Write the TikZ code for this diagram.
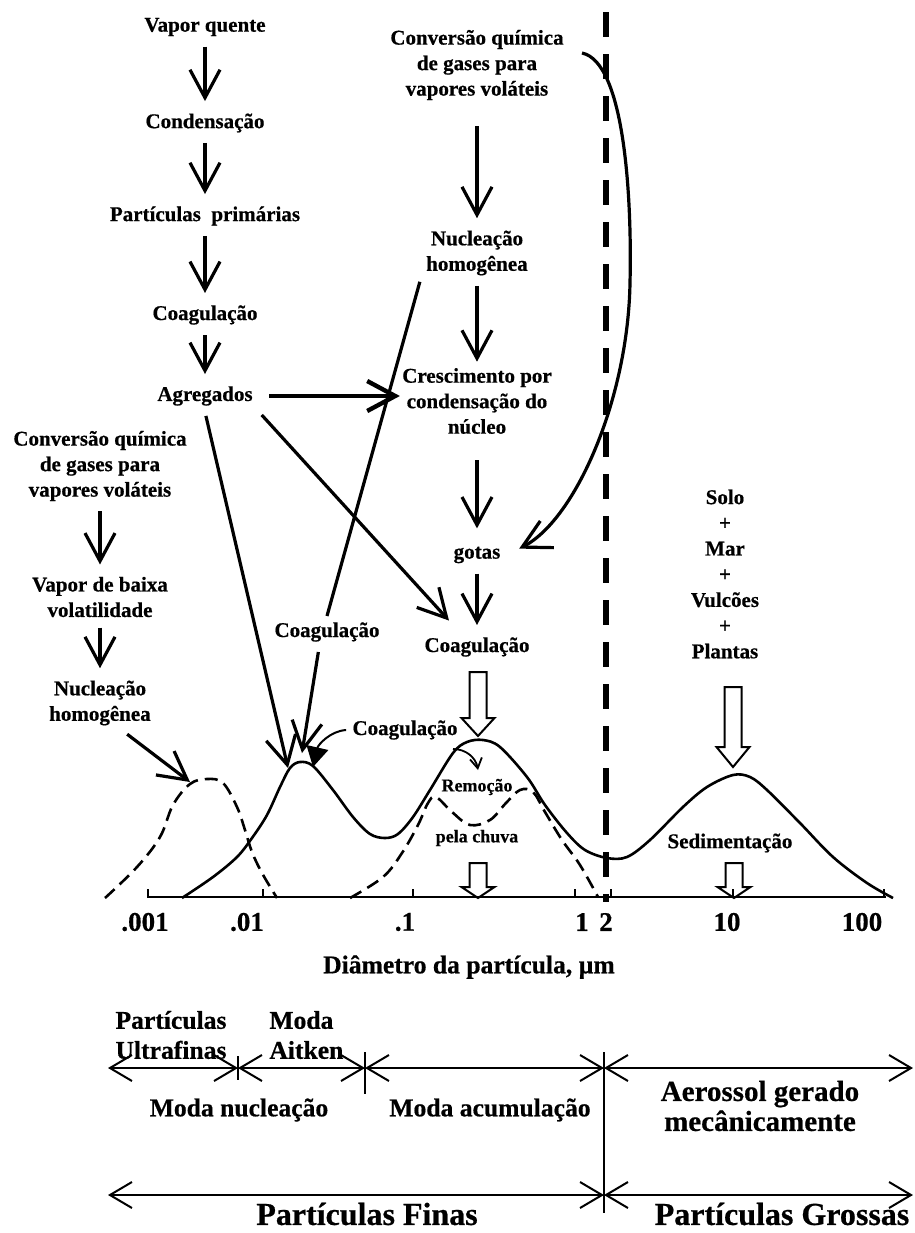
\documentclass[tikz,border=0pt]{standalone}
\usepackage{fontspec}
\setmainfont{Liberation Serif}[BoldFeatures={FakeBold=0.6}]
\usetikzlibrary{arrows.meta}
\tikzstyle{txt}=[font=\fontsize{10.5}{12.75}\selectfont\bfseries,align=center,inner sep=3pt]
\tikzstyle{fontestxt}=[font=\fontsize{10.5}{12.85}\selectfont\bfseries,align=center,inner sep=3pt]
\tikzstyle{smalltxt}=[font=\fontsize{9}{10}\selectfont\bfseries,inner sep=2pt]
\tikzstyle{numtxt}=[font=\fontsize{13.5}{15}\selectfont\bfseries,inner sep=2pt]
\tikzstyle{bigtxt}=[font=\fontsize{12.8}{15}\selectfont\bfseries,align=center,inner sep=3pt]
\tikzstyle{aertxt}=[font=\fontsize{14.5}{15}\selectfont\bfseries,align=center,inner sep=3pt]
\tikzstyle{hugetxt}=[font=\fontsize{16}{18}\selectfont\bfseries,inner sep=3pt]
\tikzstyle{seta}=[line width=1.6pt,-{Straight Barb[length=14pt,width=15pt]},shorten <=2pt,shorten >=3pt]
\tikzstyle{setinha}=[line width=0.9pt,-{Straight Barb[length=5pt,width=6pt]}]
\tikzstyle{traco}=[line width=1.6pt]
\tikzstyle{curva}=[line width=1.3pt]
\tikzstyle{curvatr}=[line width=1.3pt,dash pattern=on 6.5pt off 3.5pt]
\tikzstyle{divisa}=[line width=3pt,dash pattern=on 12.5pt off 8.5pt]
\tikzstyle{eixo}=[line width=0.8pt]
\tikzstyle{oca}=[line width=1pt,fill=white]
\tikzstyle{escala}=[line width=1pt,{Straight Barb[length=11pt,width=13pt]}-{Straight Barb[length=11pt,width=13pt]}]
% seta vazada: x, topo, ponta, cabeca
\newcommand{\setaoca}[4]{%
  \draw[oca] (#1-8.5,#2) -- (#1+8.5,#2) -- (#1+8.5,#3-#4) -- (#1+16.5,#3-#4)
    -- (#1,#3) -- (#1-16.5,#3-#4) -- (#1-8.5,#3-#4) -- cycle;}

\begin{document}
\begin{tikzpicture}[x=0.5pt,y=-0.5pt]
    \useasboundingbox (0,0) rectangle (915,1233);
    % coluna da esquerda
    \node[txt] (vq) at (205,27) {Vapor quente};
    \node[txt] (cond) at (205,123) {Condensação};
    \node[txt] (pprim) at (205,216) {Partículas \ primárias};
    \node[txt] (coagA) at (205,315) {Coagulação};
    \node[txt] (agr) at (205,396) {Agregados};
    \draw[seta] (vq) -- (cond);
    \draw[seta] (cond) -- (pprim);
    \draw[seta] (pprim) -- (coagA);
    \draw[seta] (coagA) -- (agr);
    % coluna do meio
    \node[txt] (convA) at (477,65) {Conversão química\\de gases para\\vapores voláteis};
    \node[txt] (nucA) at (477,253) {Nucleação\\homogênea};
    \node[txt] (cresc) at (477,401) {Crescimento por\\condensação do\\núcleo};
    \node[txt] (gotas) at (477,555) {gotas};
    \node[txt] (coagB) at (477,647) {Coagulação};
    \draw[seta,shorten <=10pt] (convA) -- (nucA);
    \draw[seta,shorten >=0pt] (nucA) -- (cresc);
    \draw[seta,shorten <=10pt,shorten >=6pt] (cresc) -- (gotas);
    \draw[seta] (gotas) -- (coagB);
    % coluna da esquerda, em baixo
    \node[txt] (convB) at (100,466) {Conversão química\\de gases para\\vapores voláteis};
    \node[txt] (vbv) at (100,597) {Vapor de baixa\\volatilidade};
    \node[txt] (nucB) at (100,703) {Nucleação\\homogênea};
    \draw[seta] (convB) -- (vbv);
    \draw[seta] (vbv) -- (nucB);
    % fontes naturais
    \node[fontestxt] (fontes) at (725,574) {Solo\\+\\Mar\\+\\Vulcões\\+\\Plantas};
    % picos das modas
    \coordinate (pN) at (207,779);
    \coordinate (pA) at (300,762);
    \coordinate (pC) at (480,740);
    \coordinate (pG) at (740,773);
    % rotulos do grafico
    \node[txt] (coagC) at (327,632) {Coagulação};
    \node[txt] (coagD) at (405,730) {Coagulação};
    \node[smalltxt] (remo) at (477,787) {Remoção};
    \node[smalltxt] (chuva) at (477,838) {pela chuva};
    \node[txt] (sedim) at (730,843) {Sedimentação};
    % ligacoes
    \draw[seta,line width=2.2pt,shorten <=5pt,shorten >=-2pt] (agr.east) -- (agr.east -| cresc.west);
    \draw[seta,shorten >=0pt] (agr.south) -- ([xshift=-6pt,yshift=-3pt]pA);
    \draw[seta] (agr.south east) -- ([xshift=-12pt,yshift=3pt]coagB.north);
    \draw[traco] (nucA.south west) -- (coagC.north);
    \draw[seta,shorten >=0pt] ([xshift=-4pt]coagC.south) -- ([xshift=1pt,yshift=4.5pt]pA);
    \draw[line width=1pt,-{Triangle[length=10pt,width=11pt]}] (coagD.west)
        .. controls (330,731) and (318,745) .. ([xshift=6.5pt,yshift=-2.5pt]pA);
    \draw[seta,shorten >=0pt] ([xshift=12pt]nucB.south) -- ([xshift=-8.5pt,yshift=-1.5pt]pN);
    \draw[seta,shorten <=0pt,shorten >=7pt] ([xshift=6pt,yshift=6pt]convA.east)
        .. controls (625,62) and (632,200) .. (630,283)
        .. controls (628,400) and (575,520) .. (gotas.east);
    \coordinate (r1) at (453,749);
    \coordinate (r2) at (478,770);
    \draw[setinha] (r1) to[out=0,in=100] (r2);
    % setas vazadas
    \setaoca{478}{672}{736}{18}
    \setaoca{733}{687}{767}{20}
    \setaoca{478}{863}{898}{11}
    \setaoca{734}{863}{898}{11}
    % linha divisoria
    \coordinate (d0) at (606,12);
    \coordinate (d1) at (606,902);
    \draw[divisa] (d0) -- (d1);
    % curvas
    \draw[curvatr] plot[smooth,tension=0.6] coordinates {(105,898) (137,867) (160,837)
        (173,805) (190,784) (207,779) (223,783) (237,807) (245,830) (252,852) (262,873) (277,898)};
    \draw[curvatr] plot[smooth,tension=0.6] coordinates {(350,898) (383,877) (402,853)
        (418,825) (428,803) (436,797) (452,812) (470,825) (490,820) (506,803) (520,790)
        (533,792) (545,812) (562,840) (580,865) (598,897)};
    \draw[curva] plot[smooth,tension=0.55] coordinates {(182,898) (213,877) (237,857)
        (252,838) (267,815) (280,787) (290,768) (300,762) (313,766) (333,790) (353,817)
        (370,834) (385,838) (398,834) (413,817) (430,790) (453,753) (467,742) (483,740)
        (500,747) (527,777) (545,805) (567,833) (585,850) (607,858) (627,857) (650,840)
        (683,807) (707,787) (733,775) (750,777) (767,790) (800,823) (833,857) (867,883) (893,898)};
    % eixo
    \coordinate (e0) at (147,897);
    \coordinate (e1) at (886,897);
    \draw[eixo] (e0) -- (e1);
    \foreach \t in {148,263,413,575,611,733,884}
        \draw[eixo] (\t,897) -- (\t,889);
    \node[numtxt] (t1) at (145,922) {.001};
    \node[numtxt] (t2) at (247,922) {.01};
    \node[numtxt] (t3) at (405,922) {.1};
    \node[numtxt] (t4) at (582,922) {1};
    \node[numtxt] (t5) at (606,922) {2};
    \node[numtxt] (t6) at (727,922) {10};
    \node[numtxt] (t7) at (862,922) {100};
    \node[bigtxt] (diam) at (469,967) {Diâmetro da partícula, µm};
    % faixas de tamanho
    \node[bigtxt] (pu) at (171,1035) {Partículas\\Ultrafinas};
    \node[bigtxt,align=left,anchor=west] (mai) at (263,1035) {Moda\\Aitken};
    \node[bigtxt] (mnuc) at (239,1110) {Moda nucleação};
    \node[bigtxt] (macu) at (490,1110) {Moda acumulação};
    \node[aertxt] (aer) at (760,1106) {Aerossol gerado\\mecânicamente};
    \node[hugetxt] (pf) at (367,1214) {Partículas Finas};
    \node[hugetxt] (pg) at (782,1214) {Partículas Grossas};
    \coordinate (b0) at (108,1068);
    \coordinate (b1) at (238,1068);
    \coordinate (b2) at (365,1068);
    \coordinate (b3) at (604,1068);
    \coordinate (b4) at (913,1068);
    \coordinate (c0) at (108,1195);
    \coordinate (c3) at (604,1195);
    \coordinate (c4) at (913,1195);
    \draw[escala] (b0) -- (b1);
    \draw[escala] (b1) -- (b2);
    \draw[escala] (b2) -- (b3);
    \draw[escala] (b3) -- (b4);
    \draw[escala] (c0) -- (c3);
    \draw[escala] (c3) -- (c4);
    \draw[eixo] ([yshift=6pt]b1) -- ([yshift=-6pt]b1);
    \draw[eixo] ([yshift=8pt]b2) -- ([yshift=-13pt]b2);
    \draw[eixo] ([yshift=8pt]b3) -- ([yshift=-9pt]c3);
\end{tikzpicture}
\end{document}
